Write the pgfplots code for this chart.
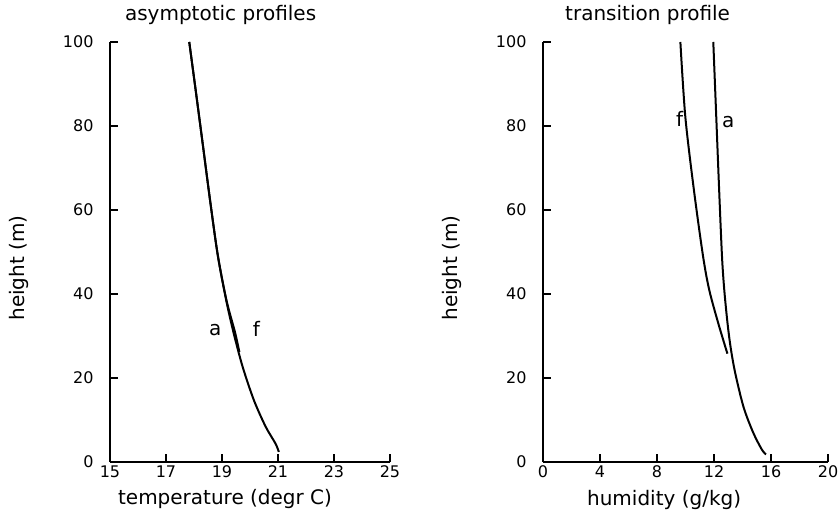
\documentclass[border=0pt]{standalone}
\usepackage{fontspec}
\setmainfont{DejaVu Sans}
\usepackage{pgfplots}
\pgfplotsset{compat=1.18}

\pgfplotsset{
  prof/.style={
    scale only axis,
    height=420pt,
    axis x line=bottom,
    axis y line=left,
    axis line style={-, line width=1.4pt},
    tick align=inside,
    major tick length=8pt,
    every tick/.style={black, line width=1.3pt},
    ymin=0, ymax=100,
    ytick={0,20,...,100},
    enlargelimits=false,
    tick label style={font=\fontsize{16}{19}\selectfont},
    yticklabel style={xshift=-13pt},
    /pgf/number format/assume math mode=true,
    clip=false,
  },
  curve/.style={black, line width=2pt, smooth},
}
\newcommand{\lab}{\fontsize{20}{24}\selectfont}

\begin{document}
\begin{tikzpicture}
\useasboundingbox (0,0) rectangle (840pt,516pt);

% left panel: temperature
\begin{axis}[prof, at={(110pt,54pt)}, anchor=south west, width=280pt,
    xmin=15, xmax=25, xtick={15,17,...,25}]
  % a
  \addplot[curve] coordinates {
    (17.83,100) (18.08,87.5) (18.32,75.3) (18.58,62) (18.85,49.2)
    (19.15,38.5) (19.42,30.6) (19.74,22.6) (20.14,14.7) (20.56,8.4)
    (20.91,4.4) (21.03,2.4)
  };
  % f
  \addplot[curve] coordinates {
    (17.83,100) (18.08,87.5) (18.32,75.3) (18.58,62) (18.85,49.2)
    (19.16,38.5) (19.46,31) (19.62,26.2)
  };
  \node[font=\lab] at (axis cs:18.76,31.5) {a};
  \node[font=\lab] at (axis cs:20.23,31.8) {f};
  \node[font=\lab] at (rel axis cs:0.395,1.064) {asymptotic profiles};
  \node[font=\lab] at (rel axis cs:0.411,-0.088) {temperature (degr C)};
  \node[font=\lab, rotate=90] at (rel axis cs:-0.325,0.462) {height (m)};
\end{axis}

% right panel: humidity
\begin{axis}[prof, at={(543pt,54pt)}, anchor=south west, width=285pt,
    xmin=0, xmax=20, xtick={0,4,...,20}]
  % a
  \addplot[curve] coordinates {
    (11.95,100) (12.16,82) (12.37,64) (12.56,49) (12.72,41)
    (12.95,33) (13.18,27) (13.5,21) (14.08,13) (14.75,7)
    (15.35,3) (15.65,1.8)
  };
  % f
  \addplot[curve] coordinates {
    (9.64,100) (9.99,82.1) (10.6,64.5) (11.24,48.8) (11.67,40.9)
    (12.31,32.9) (12.94,25.8)
  };
  \node[font=\lab] at (axis cs:9.59,81.6) {f};
  \node[font=\lab] at (axis cs:13.0,81) {a};
  \node[font=\lab] at (rel axis cs:0.367,1.064) {transition profile};
  \node[font=\lab] at (rel axis cs:0.425,-0.09) {humidity (g/kg)};
  \node[font=\lab, rotate=90] at (rel axis cs:-0.319,0.462) {height (m)};
\end{axis}
\end{tikzpicture}
\end{document}
